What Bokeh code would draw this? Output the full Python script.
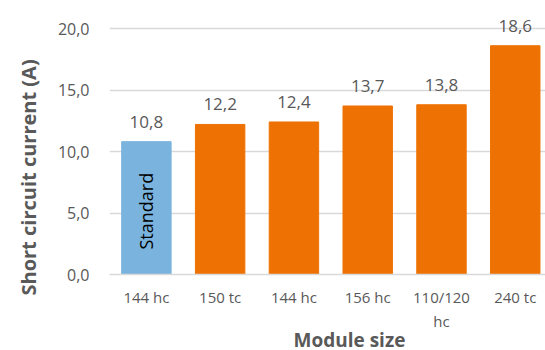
from bokeh.plotting import figure
from bokeh.models import ColumnDataSource, FixedTicker, Range1d, Title
from bokeh.core.properties import value
from bokeh.embed import file_html
from bokeh.resources import INLINE

categories = ["144 hc", "150 tc", "144 hc", "156 hc", "110/120\nhc", "240 tc"]
currents = [10.8, 12.2, 12.4, 13.7, 13.8, 18.6]
colors = ["#7AB4DE", "#EE7203", "#EE7203", "#EE7203", "#EE7203", "#EE7203"]
y_ticks = [0, 5, 10, 15, 20]
x_title = "Module size"
y_title = "Short circuit current (A)"

FONT = "Open Sans"
GREY = "#595959"

xs = list(range(len(categories)))
src = ColumnDataSource(dict(
    x=xs, top=currents, color=colors,
    label=[f"{v:.1f}".replace(".", ",") for v in currents],
))

p = figure(width=545, height=350, output_backend="svg", toolbar_location=None,
           x_range=Range1d(-0.5, 5.41), y_range=Range1d(0, 21.87),
           min_border_left=106, min_border_right=0, min_border_top=5,
           min_border_bottom=76)
p.outline_line_color = None
p.background_fill_color = "white"
p.border_fill_color = "white"

p.vbar(x="x", top="top", width=0.67, color="color", source=src)
p.text(x="x", y="top", text="label", source=src, text_align="center",
       text_baseline="bottom", y_offset=-14, text_font=value(FONT),
       text_font_size="17px", text_color=GREY)
p.text(x=[xs[0]], y=[currents[0] / 2 - 0.25], text=["Standard"], angle=1.5708,
       text_align="center", text_baseline="middle", text_font=value(FONT),
       text_font_size="18px", text_color="black")

# x axis
p.xaxis.ticker = FixedTicker(ticks=xs)
p.xaxis.major_label_overrides = {i: c for i, c in enumerate(categories)}
p.xaxis.axis_line_color = "#D9D9D9"
p.xaxis.axis_line_width = 1.5
p.xaxis.major_tick_line_color = None
p.xaxis.minor_tick_line_color = None
p.xaxis.major_label_text_font = FONT
p.xaxis.major_label_text_font_size = "15px"
p.xaxis.major_label_text_color = GREY
p.xaxis.major_label_standoff = 6

# y axis
p.yaxis.ticker = FixedTicker(ticks=y_ticks)
p.yaxis.major_label_overrides = {t: f"{t:.1f}".replace(".", ",") for t in y_ticks}
p.yaxis.axis_line_color = None
p.yaxis.major_tick_line_color = None
p.yaxis.minor_tick_line_color = None
p.yaxis.major_label_text_font = FONT
p.yaxis.major_label_text_font_size = "16px"
p.yaxis.major_label_text_color = GREY
p.yaxis.major_label_standoff = 14

# axis titles as side titles, shifted like the reference
p.add_layout(Title(text=x_title, align="left", offset=184, standoff=-18,
                   text_font=FONT, text_font_size="19px", text_font_style="bold",
                   text_color=GREY), "below")
p.add_layout(Title(text=y_title, align="left", offset=-21, standoff=25,
                   text_font=FONT, text_font_size="20px", text_font_style="bold",
                   text_color=GREY), "left")

p.xgrid.grid_line_color = None
p.ygrid.grid_line_color = "#D9D9D9"
p.ygrid.grid_line_width = 1.5

open("out.html", "w").write(file_html(p, INLINE))
